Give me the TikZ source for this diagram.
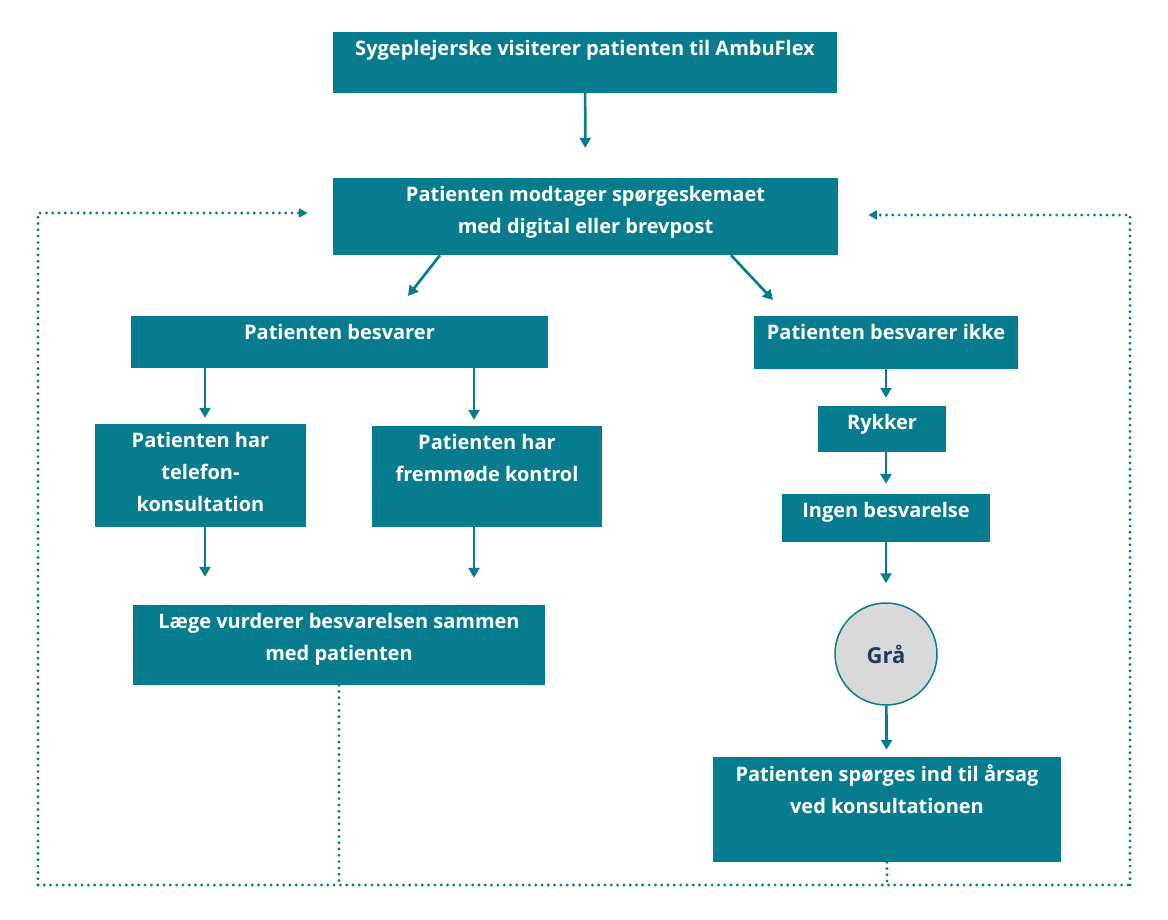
\documentclass[tikz,border=0pt]{standalone}
\usepackage{fontspec}
\setmainfont{Open Sans}
\usetikzlibrary{arrows.meta}

\definecolor{petrol}{HTML}{077C8E}
\definecolor{graafyld}{HTML}{D9D9D9}
\definecolor{moerkblaa}{HTML}{1F3B63}

\tikzset{
    flowbox/.style = {
        rectangle,
        fill=petrol,
        inner sep=0pt},
    boxtext/.style = {
        anchor=north,
        align=center,
        text=white,
        inner sep=8pt,
        font=\fontsize{20}{32}\selectfont\bfseries},
    graa/.style = {
        circle,
        fill=graafyld,
        draw=petrol,
        line width=1.5pt,
        minimum size=102pt,
        text=moerkblaa,
        font=\fontsize{22}{32}\selectfont\bfseries},
    arr/.style = {
        draw=petrol,
        line width=2.7pt,
        -{Triangle[length=10pt,width=11pt]}},
    fb/.style = {
        draw=petrol,
        line width=3.2pt,
        line cap=round,
        dash pattern=on 0pt off 6.3pt}
}

\begin{document}
\begin{tikzpicture}[x=1pt, y=-1pt]
\useasboundingbox (0,0) rectangle (1168,920);

% boxes
\node [flowbox, minimum width=504pt, minimum height=61pt,
    label={[boxtext]north:Sygeplejerske visiterer patienten til AmbuFlex}]
    (visit) at (585,62.5) {};
\node [flowbox, minimum width=505pt, minimum height=77pt,
    label={[boxtext]north:Patienten modtager spørgeskemaet\\med digital eller brevpost}]
    (modt) at (585.5,216.5) {};
\node [flowbox, minimum width=417pt, minimum height=52pt,
    label={[boxtext]north:Patienten besvarer}]
    (besv) at (339.5,342) {};
\node [flowbox, minimum width=264pt, minimum height=53pt,
    label={[boxtext]north:Patienten besvarer ikke}]
    (ikke) at (886,342.5) {};
\node [flowbox, minimum width=211pt, minimum height=103pt,
    label={[boxtext]north:Patienten har\\telefon-\\konsultation}]
    (tlf) at (200.5,475.5) {};
\node [flowbox, minimum width=230pt, minimum height=101pt,
    label={[boxtext]north:Patienten har\\fremmøde kontrol}]
    (frem) at (487,476.5) {};
\node [flowbox, minimum width=128pt, minimum height=46pt,
    label={[boxtext]north:Rykker}]
    (rykker) at (882,429) {};
\node [flowbox, minimum width=208pt, minimum height=48pt,
    label={[boxtext]north:Ingen besvarelse}]
    (ingen) at (886,518) {};
\node [flowbox, minimum width=412pt, minimum height=80pt,
    label={[boxtext]north:Læge vurderer besvarelsen sammen\\med patienten}]
    (laege) at (339,645) {};
\node [graa] (status) at (886,654) {Grå};
\node [flowbox, minimum width=348pt, minimum height=105pt,
    label={[boxtext]north:Patienten spørges ind til årsag\\ved konsultationen}]
    (aarsag) at (887,809.5) {};

% ends of the slanted arrows and of the return loop
\coordinate (svarV) at (408,296);
\coordinate (svarH) at (773,300);
\coordinate (loopV) at (38,885);
\coordinate (loopH) at (1130,885);

% arrows
\draw [arr, shorten >=30pt] (visit) -- (modt);
\draw [arr] ([xshift=-145.5pt]modt.south) -- (svarV);
\draw [arr] ([xshift=145.5pt]modt.south) -- (svarH);
\draw [arr, shorten >=6pt] ([xshift=4.5pt]tlf.north |- besv.south) -- ([xshift=4.5pt]tlf.north);
\draw [arr, shorten >=6pt] ([xshift=-13pt]frem.north |- besv.south) -- ([xshift=-13pt]frem.north);
\draw [arr, shorten >=28pt] ([xshift=4.5pt]tlf.south) -- ([xshift=4.5pt]tlf.south |- laege.north);
\draw [arr, shorten >=27pt] ([xshift=-13pt]frem.south) -- ([xshift=-13pt]frem.south |- laege.north);
\draw [arr, shorten >=8pt] (ikke.south) -- (ikke.south |- rykker.north);
\draw [arr, shorten >=10pt] (ikke.south |- rykker.south) -- (ingen.north);
\draw [arr, shorten >=19pt] (ingen) -- (status);
\draw [arr, shorten >=7pt] (status) -- (aarsag);

% return loop
\draw [fb] (laege.south) -- (laege.south |- loopV);
\draw [fb] (aarsag.south) -- (aarsag.south |- loopH);
\draw [fb] (loopV) -- (loopH);
\draw [fb, -{Triangle[length=9pt,width=9pt]}, shorten >=25pt] (loopV) |- ([yshift=3.5pt]modt.west);
\draw [fb, -{Triangle[length=9pt,width=9pt]}, shorten >=30pt] (loopH) |- ([yshift=1.5pt]modt.east);
\end{tikzpicture}
\end{document}
